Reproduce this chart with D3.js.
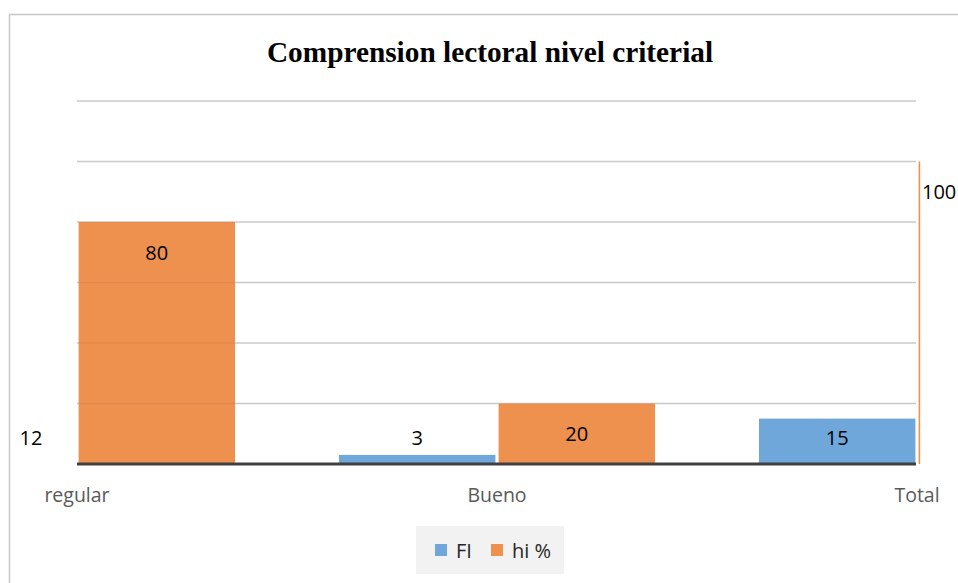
<!DOCTYPE html>
<html>
<head>
<meta charset="utf-8">
<script src="https://cdn.jsdelivr.net/npm/d3@7"></script>
<style>
    body { margin: 0; background: #fff; }
    svg { display: block; }
</style>
</head>
<body>
<svg id="chart" width="958" height="583"></svg>
<script>
// values
const categories = ["regular", "Bueno", "Total"]
const seriesNames = ["FI", "hi %"]
const fiValues = [12, 3, 15]
const hiValues = [80, 20, 100]
const yTicks = [0, 20, 40, 60, 80, 100, 120]
const colors = {"FI": "#70a7da", "hi %": "#ee914f"}

const svg = d3.select("#chart")
const plot = {left: 77, right: 917, top: 101, bottom: 464}

// chart border (runs past the right and bottom edges of the picture)
svg.append("rect")
   .attr("x", 9.5).attr("y", 14.5)
   .attr("width", 1000).attr("height", 600)
   .attr("fill", "#fff")
   .attr("stroke", "#c8c8c8")
   .attr("stroke-width", 1.5)

svg.append("text")
   .attr("x", 490).attr("y", 62)
   .attr("text-anchor", "middle")
   .style("font-family", "'Liberation Serif', 'Times New Roman', serif")
   .style("font-weight", "bold")
   .style("font-size", "29.3px")
   .text("Comprension lectoral nivel criterial")

const x = d3.scalePoint().domain(categories).range([plot.left, plot.right])
const xs = d3.scaleBand().domain(seriesNames).range([-158, 158]).paddingInner(0.02)
const y = d3.scaleLinear().domain([0, 120]).range([plot.bottom, plot.top])

// gridlines
svg.append("g")
   .selectAll("line")
   .data(yTicks.slice(1))
   .enter()
   .append("line")
   .attr("x1", plot.left).attr("x2", plot.right - 1)
   .attr("y1", d => y(d)).attr("y2", d => y(d))
   .attr("stroke", "#d4d4d4")
   .attr("stroke-width", 1.5)

svg.append("clipPath")
   .attr("id", "plot-clip")
   .append("rect")
   .attr("x", plot.left).attr("y", 0)
   .attr("width", plot.right - plot.left + 3.2).attr("height", 583)

const bars = []
categories.forEach((c, i) => {
    bars.push({category: c, series: "FI", value: fiValues[i]})
    bars.push({category: c, series: "hi %", value: hiValues[i]})
})

svg.append("g")
   .attr("clip-path", "url(#plot-clip)")
   .selectAll("rect")
   .data(bars)
   .enter()
   .append("rect")
   .attr("x", d => x(d.category) + xs(d.series))
   .attr("width", xs.bandwidth())
   .attr("y", d => y(d.value))
   .attr("height", d => y(0) - y(d.value))
   .attr("fill", d => colors[d.series])

// faint gridlines show through the bars
svg.append("g")
   .selectAll("line")
   .data(yTicks.slice(1))
   .enter()
   .append("line")
   .attr("x1", plot.left).attr("x2", plot.right - 1)
   .attr("y1", d => y(d)).attr("y2", d => y(d))
   .attr("stroke", "rgba(0,0,0,0.05)")
   .attr("stroke-width", 1.5)

// baseline
svg.append("line")
   .attr("x1", plot.left).attr("x2", plot.right - 1)
   .attr("y1", y(0)).attr("y2", y(0))
   .attr("stroke", "#404040")
   .attr("stroke-width", 3)

// data labels, pulled back inside the chart when the bar is cut off
const barCenter = d => x(d.category) + xs(d.series) + xs.bandwidth() / 2
svg.append("g")
   .selectAll("text")
   .data(bars)
   .enter()
   .append("text")
   .attr("x", d => {
       let cx = barCenter(d)
       if (cx > plot.right + 24) return plot.right + 5
       return Math.max(cx, plot.left - 46)
   })
   .attr("y", d => Math.min(y(d.value) + 30, y(0) - 27) + 7.5)
   .attr("text-anchor", d => barCenter(d) > plot.right + 24 ? "start" : "middle")
   .style("font-family", "'Open Sans', sans-serif")
   .style("font-size", "20px")
   .attr("fill", "#000")
   .text(d => d.value)

// category labels
svg.append("g")
   .selectAll("text")
   .data(categories)
   .enter()
   .append("text")
   .attr("x", d => x(d))
   .attr("y", 502)
   .attr("text-anchor", "middle")
   .style("font-family", "'Open Sans', sans-serif")
   .style("font-size", "19.5px")
   .attr("fill", "#595959")
   .text(d => d)

// legend
const legend = svg.append("g")
legend.append("rect")
      .attr("x", 416).attr("y", 526)
      .attr("width", 148).attr("height", 48)
      .attr("fill", "#f2f2f2")

const legendX = {"FI": 435, "hi %": 491}
legend.selectAll("g")
      .data(seriesNames)
      .enter()
      .append("g")
      .each(function (s) {
          d3.select(this)
            .append("rect")
            .attr("x", legendX[s]).attr("y", 544)
            .attr("width", 12).attr("height", 12)
            .attr("fill", colors[s])
          d3.select(this)
            .append("text")
            .attr("x", legendX[s] + 21).attr("y", 558)
            .style("font-family", "'Open Sans', sans-serif")
            .style("font-size", "20px")
            .attr("fill", "#262626")
            .text(s)
      })
</script>
</body>
</html>
